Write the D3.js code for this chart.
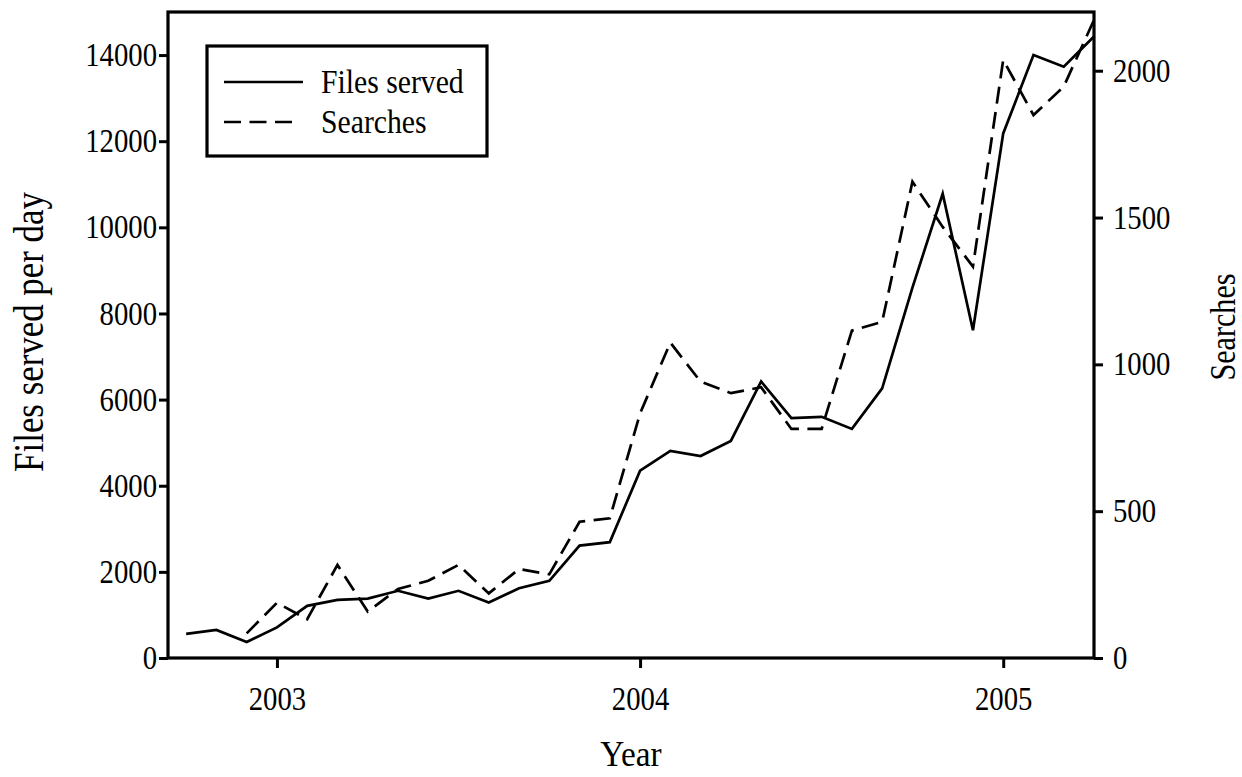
<!DOCTYPE html>
<html>
<head>
<meta charset="utf-8">
<script src="https://cdn.jsdelivr.net/npm/d3@7"></script>
<style>
    body { margin: 0; background: #fff; }
    svg text { font-family: "Liberation Serif", "Times New Roman", serif; fill: #000; }
</style>
</head>
<body>
<div id="chart"></div>
<script>
// monthly values, Oct 2002 .. Apr 2005
var months = ["2002-10","2002-11","2002-12",
    "2003-01","2003-02","2003-03","2003-04","2003-05","2003-06","2003-07","2003-08","2003-09","2003-10","2003-11","2003-12",
    "2004-01","2004-02","2004-03","2004-04","2004-05","2004-06","2004-07","2004-08","2004-09","2004-10","2004-11","2004-12",
    "2005-01","2005-02","2005-03","2005-04"];

var filesServed = [560, 650, 370,
    710, 1210, 1350, 1380, 1560, 1380, 1560, 1290, 1620, 1790, 2610, 2690,
    4350, 4810, 4690, 5040, 6420, 5570, 5600, 5320, 6260, 8600, 10780, 7610,
    12180, 14000, 13730, 14430];

// no searches logged before Dec 2002
var searches = [null, null, 84,
    188, 132, 317, 158, 235, 263, 317, 220, 303, 285, 464, 476,
    833, 1074, 941, 902, 922, 780, 780, 1115, 1145, 1622, 1468, 1333,
    2037, 1849, 1946, 2173];

var yearTicks = [2003, 2004, 2005];
var filesTicks = [0, 2000, 4000, 6000, 8000, 10000, 12000, 14000];
var searchTicks = [0, 500, 1000, 1500, 2000];

// set the dimensions and margins of the graph
var margin = {top: 12, right: 148, bottom: 119, left: 168},
    width = 1242 - margin.left - margin.right,
    height = 777 - margin.top - margin.bottom;

var svg = d3.select("#chart")
    .append("svg")
    .attr("width", 1242)
    .attr("height", 777)
    .append("g")
    .attr("transform", "translate(" + margin.left + "," + margin.top + ")");

// month string -> decimal year
function toYear(m) {
    var p = m.split("-");
    return +p[0] + (+p[1] - 1) / 12;
}

// the original lettering is narrow: squeeze each text along its baseline
function condense(sel, k) {
    sel.each(function () {
        var w = this.getComputedTextLength();
        d3.select(this)
            .attr("textLength", w * k)
            .attr("lengthAdjust", "spacingAndGlyphs");
    });
}

var data = months.map(function (m, i) {
    return {t: toYear(m), files: filesServed[i], searches: searches[i]};
});

var x = d3.scaleLinear().domain([2002.7, 2005.25]).range([0, width]);
var yL = d3.scaleLinear().domain([0, 15000]).range([height, 0]);
var yR = d3.scaleLinear().domain([0, 2200]).range([height, 0]);

var fontSize = 33;
var squeeze = 0.87;
var dash = "17,8.5";

// axes
var xAxis = svg.append("g")
    .attr("transform", "translate(0," + height + ")")
    .call(d3.axisBottom(x).tickValues(yearTicks).tickFormat(d3.format("d")).tickSize(10).tickPadding(12));

var leftAxis = svg.append("g")
    .call(d3.axisLeft(yL).tickValues(filesTicks).tickFormat(d3.format("d")).tickSize(9).tickPadding(2));

var rightAxis = svg.append("g")
    .attr("transform", "translate(" + width + ",0)")
    .call(d3.axisRight(yR).tickValues(searchTicks).tickFormat(d3.format("d")).tickSize(9).tickPadding(10));

[xAxis, leftAxis, rightAxis].forEach(function (a) {
    a.select(".domain").remove();
    a.selectAll(".tick line").attr("stroke", "#000").attr("stroke-width", 3);
    a.selectAll(".tick text")
        .style("font-size", fontSize + "px")
        .style("font-family", "'Liberation Serif', serif")
        .call(condense, squeeze);
});
xAxis.selectAll(".tick text").attr("dy", "0.9em");

// frame
svg.append("rect")
    .attr("x", 0).attr("y", 0)
    .attr("width", width).attr("height", height)
    .attr("fill", "none")
    .attr("stroke", "#000")
    .attr("stroke-width", 3.2);

// lines
var filesLine = d3.line()
    .x(function (d) { return x(d.t); })
    .y(function (d) { return yL(d.files); });

var searchLine = d3.line()
    .defined(function (d) { return d.searches != null; })
    .x(function (d) { return x(d.t); })
    .y(function (d) { return yR(d.searches); });

svg.append("path")
    .datum(data)
    .attr("d", filesLine)
    .attr("fill", "none")
    .attr("stroke", "#000")
    .attr("stroke-width", 2.7);

svg.append("path")
    .datum(data)
    .attr("d", searchLine)
    .attr("fill", "none")
    .attr("stroke", "#000")
    .attr("stroke-width", 2.7)
    .attr("stroke-dasharray", dash);

// axis titles
svg.append("text")
    .attr("transform", "translate(" + (width / 2) + "," + (height + 108) + ")")
    .attr("text-anchor", "middle")
    .style("font-size", "35px")
    .text("Year")
    .call(condense, 0.95);

svg.append("text")
    .attr("transform", "translate(" + (-125) + "," + (height / 2 - 3) + ") rotate(-90)")
    .attr("text-anchor", "middle")
    .style("font-size", "42px")
    .text("Files served per day")
    .call(condense, 0.83);

svg.append("text")
    .attr("transform", "translate(" + (width + 141) + "," + (height / 2 - 8) + ") rotate(-90)")
    .attr("text-anchor", "middle")
    .style("font-size", "35px")
    .text("Searches")
    .call(condense, 0.86);

// legend
var legend = svg.append("g").attr("transform", "translate(39,34)");
legend.append("rect")
    .attr("width", 280).attr("height", 110)
    .attr("fill", "#fff")
    .attr("stroke", "#000")
    .attr("stroke-width", 3.2);

var legendItems = [
    {label: "Files served", dash: null, len: 79},
    {label: "Searches", dash: dash, len: 69}
];

var item = legend.selectAll(".item")
    .data(legendItems)
    .enter()
    .append("g")
    .attr("class", "item")
    .attr("transform", function (d, i) { return "translate(0," + (36 + i * 40) + ")"; });

item.append("line")
    .attr("x1", 17)
    .attr("x2", function (d) { return 17 + d.len; })
    .attr("stroke", "#000")
    .attr("stroke-width", 2.7)
    .attr("stroke-dasharray", function (d) { return d.dash; });

item.append("text")
    .attr("x", 114)
    .attr("dy", "0.33em")
    .style("font-size", "33px")
    .text(function (d) { return d.label; })
    .call(condense, 0.9);
</script>
</body>
</html>
